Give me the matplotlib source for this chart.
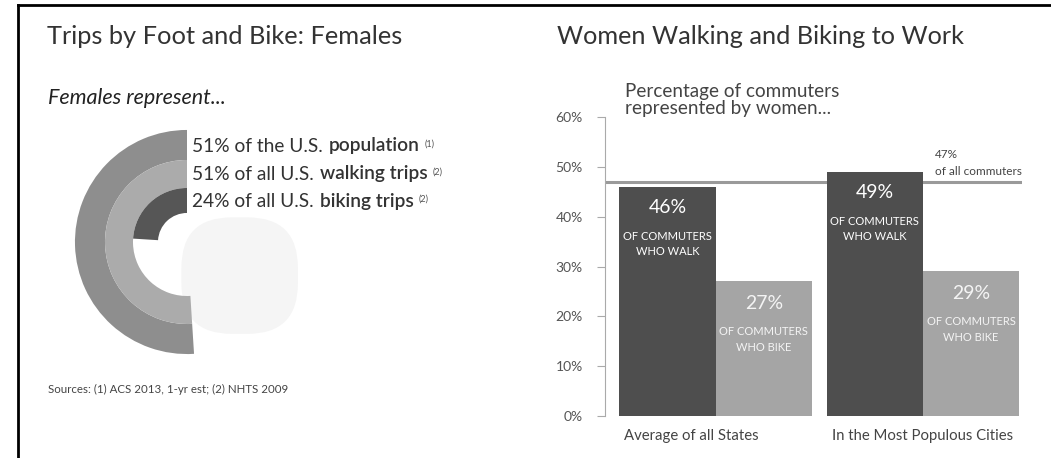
import matplotlib
matplotlib.use("Agg")
import matplotlib.pyplot as plt
from matplotlib.lines import Line2D
from matplotlib.patches import FancyBboxPatch

# left panel: share of females
ring_labels = ["51% of the U.S. ", "51% of all U.S. ", "24% of all U.S. "]
ring_bold = ["population", "walking trips", "biking trips"]
ring_notes = ["(1)", "(2)", "(2)"]
ring_pct = [51, 51, 24]
ring_colors = ["#8e8e8e", "#ababab", "#565656"]

# right panel: women share of commuters
groups = ["Average of all States", "In the Most Populous Cities"]
walk_pct = [46, 49]
bike_pct = [27, 29]
all_commuters = 47
yticks = [0, 10, 20, 30, 40, 50, 60]

W, H = 1051, 458
fig = plt.figure(figsize=(W / 100, H / 100), dpi=100)
plt.rcParams['font.family'] = ['Lato', 'DejaVu Sans']


def fx(x):
    return x / W


def fy(y):
    return 1 - y / H


# frame lines
fig.add_artist(Line2D([fx(18), 1], [fy(5), fy(5)], color="black", lw=2))
fig.add_artist(Line2D([fx(18), fx(18)], [fy(5), 0], color="black", lw=2))

# ---- left panel ----
fig.text(fx(47), fy(36), "Trips by Foot and Bike: Females", fontsize=18.3,
         color="#333333", va="center")
fig.text(fx(48), fy(98), "Females represent...", fontsize=15.5,
         style="italic", color="#222222", va="center")

axd = fig.add_axes([fx(67), fy(362), 240 / W, 240 / H])
blob = FancyBboxPatch((-0.03, -0.8), 1.0, 1.0, boxstyle="round,pad=0.02,rounding_size=0.45",
                      fc="#f5f5f5", ec="none", zorder=0, clip_on=False)
axd.add_patch(blob)
radii = [1.0, 0.732, 0.482, 0.259]
for i, p in enumerate(ring_pct):
    axd.pie([p, 100 - p], radius=radii[i], startangle=90, counterclock=True,
            colors=[ring_colors[i], "none"],
            wedgeprops=dict(width=radii[i] - radii[i + 1], linewidth=0))
axd.set_xlim(-1.071, 1.071)
axd.set_ylim(-1.071, 1.071)
axd.axis("off")

line_y = [146, 174, 201]
for lab, bold, note, y in zip(ring_labels, ring_bold, ring_notes, line_y):
    t1 = fig.text(fx(192), fy(y), lab, fontsize=13.8, color="#333333", va="center")
    t2 = plt.annotate(bold, xy=(1, 0), xycoords=t1, xytext=(1, 0), textcoords="offset pixels",
                      fontsize=13.8, color="#333333", fontweight="semibold", va="bottom",
                      annotation_clip=False)
    plt.annotate(note, xy=(1, 1), xycoords=t2, xytext=(5, -2), textcoords="offset pixels",
                 fontsize=6.5, color="#555555", va="top", annotation_clip=False)

fig.text(fx(48), fy(389), "Sources: (1) ACS 2013, 1-yr est; (2) NHTS 2009", fontsize=8.3,
         color="#444444", va="center")

# ---- right panel ----
fig.text(fx(557), fy(36), "Women Walking and Biking to Work", fontsize=18.2,
         color="#333333", va="center")
fig.text(fx(625), fy(100), "Percentage of commuters\nrepresented by women...", fontsize=13.6,
         color="#444444", va="center", linespacing=1.0)

ax = fig.add_axes([fx(605), fy(416), (1022 - 605) / W, (416 - 117) / H])
ax.set_ylim(0, 60)
ax.set_xlim(-0.65, 3.68)
gap = 2.15
walk_x = [g * gap for g in range(len(groups))]
bike_x = [g * gap + 1 for g in range(len(groups))]

ax.axhline(all_commuters, color="#9a9a9a", lw=2.2, zorder=1)
ax.bar(walk_x, walk_pct, width=1, color="#4e4e4e", zorder=2)
ax.bar(bike_x, bike_pct, width=1, color="#a5a5a5", zorder=2)

for x, v in zip(walk_x, walk_pct):
    ax.annotate(f"{v}%", xy=(x, v), xytext=(0, -21), textcoords="offset pixels",
                ha="center", va="center", fontsize=14, color="white")
    ax.annotate("OF COMMUTERS\nWHO WALK", xy=(x, v), xytext=(0, -57), textcoords="offset pixels",
                ha="center", va="center", fontsize=8, color="white",
                linespacing=1.5)
for x, v in zip(bike_x, bike_pct):
    ax.annotate(f"{v}%", xy=(x, v), xytext=(0, -22), textcoords="offset pixels",
                ha="center", va="center", fontsize=14, color="#f4f4f4")
    ax.annotate("OF COMMUTERS\nWHO BIKE", xy=(x, v), xytext=(0, -58), textcoords="offset pixels",
                ha="center", va="center", fontsize=8, color="#f4f4f4",
                linespacing=1.5)

for x, g in zip(walk_x, groups):
    ax.annotate(g, xy=(x - 0.5, 0), xytext=(5, -20), textcoords="offset pixels",
                ha="left", va="center", fontsize=10.7, color="#444444", annotation_clip=False)

ax.annotate(f"{all_commuters}%", xy=(bike_x[1] - 0.5, all_commuters), xytext=(12, 27),
            textcoords="offset pixels", ha="left", va="center", fontsize=8.5,
            color="#444444", annotation_clip=False)
ax.annotate("of all commuters", xy=(bike_x[1] - 0.5, all_commuters), xytext=(12, 10),
            textcoords="offset pixels", ha="left", va="center", fontsize=8.5,
            color="#444444", annotation_clip=False)

ax.set_yticks(yticks)
ax.set_yticklabels([f"{v}%" for v in yticks])
ax.set_xticks([])
for s in ["top", "right", "bottom"]:
    ax.spines[s].set_visible(False)
ax.spines["left"].set_color("#aaaaaa")
ax.tick_params(axis="y", length=6, color="#aaaaaa", labelsize=10,
               labelcolor="#555555", pad=10)

fig.savefig("out.png", dpi=100, facecolor="white")
